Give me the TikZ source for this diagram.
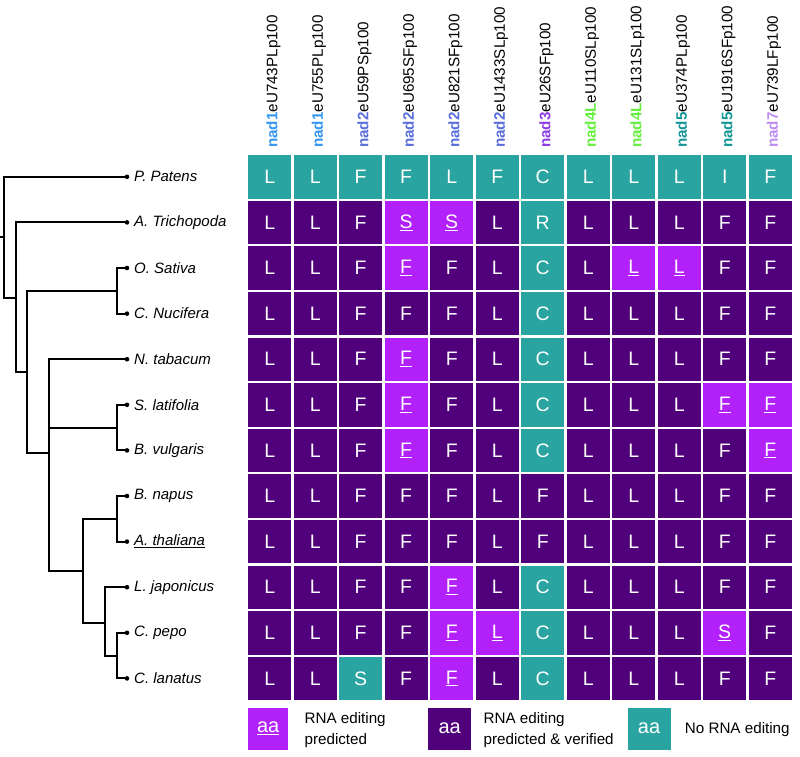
\documentclass[tikz,border=0pt]{standalone}
\usepackage{fontspec}
\setmainfont{Liberation Sans}
\usepackage{xcolor}
\usetikzlibrary{positioning}

\definecolor{verif}{RGB}{80,0,122}
\definecolor{pred}{RGB}{178,32,250}
\definecolor{noedit}{RGB}{42,164,160}
\definecolor{gnad1}{RGB}{52,150,240}
\definecolor{gnad2}{RGB}{90,110,220}
\definecolor{gnad3}{RGB}{140,60,230}
\definecolor{gnad4L}{RGB}{100,240,60}
\definecolor{gnad5}{RGB}{20,150,150}
\definecolor{gnad7}{RGB}{190,140,240}

\newcommand{\fmtv}[1]{#1}
\newcommand{\fmtp}[1]{\underline{#1}}
\newcommand{\fmtn}[1]{#1}

\begin{document}
\begin{tikzpicture}[
  x=1pt, y=-1pt,
  cell/.style={rectangle, minimum size=43.4pt, inner sep=0pt, text=white,
               font=\fontsize{19.5}{20}\selectfont},
  cellv/.style={cell, fill=verif},
  cellp/.style={cell, fill=pred},
  celln/.style={cell, fill=noedit},
  hdr/.style={rotate=90, anchor=west, inner sep=0pt,
              font=\fontsize{15.2}{16}\selectfont},
  species/.style={inner sep=0pt, font=\fontsize{15}{16}\selectfont\itshape},
  branch/.style={line width=2pt, draw=black},
  legbox/.style={rectangle, minimum height=42pt, inner sep=0pt, text=white,
                 font=\fontsize{20}{20}\selectfont},
  legtxt/.style={inner sep=0pt, align=left, yshift=-1.5pt,
                 font=\fontsize{15.2}{21.5}\selectfont}
]
\useasboundingbox (0,0) rectangle (800,756);
%% ── Column headers (editing sites) ──────────────────────────────────────
\foreach \gene/\site/\gcol [count=\c from 0] in {
    nad1/eU743PLp100/gnad1, nad1/eU755PLp100/gnad1, nad2/eU59PSp100/gnad2,
    nad2/eU695SFp100/gnad2, nad2/eU821SFp100/gnad2, nad2/eU1433SLp100/gnad2,
    nad3/eU26SFp100/gnad3, nad4L/eU110SLp100/gnad4L, nad4L/eU131SLp100/gnad4L,
    nad5/eU374PLp100/gnad5, nad5/eU1916SFp100/gnad5, nad7/eU739LFp100/gnad7}
  \node[hdr] (h\c) at ({273.5+45.5*\c},148) {\textcolor{\gcol}{\bfseries\gene}\site};
%% ── Amino-acid grid (v = verified, p = predicted, n = no editing) ───────
\foreach \row [count=\r from 0] in {
    {L/n,L/n,F/n,F/n,L/n,F/n,C/n,L/n,L/n,L/n,I/n,F/n},
    {L/v,L/v,F/v,S/p,S/p,L/v,R/n,L/v,L/v,L/v,F/v,F/v},
    {L/v,L/v,F/v,F/p,F/v,L/v,C/n,L/v,L/p,L/p,F/v,F/v},
    {L/v,L/v,F/v,F/v,F/v,L/v,C/n,L/v,L/v,L/v,F/v,F/v},
    {L/v,L/v,F/v,F/p,F/v,L/v,C/n,L/v,L/v,L/v,F/v,F/v},
    {L/v,L/v,F/v,F/p,F/v,L/v,C/n,L/v,L/v,L/v,F/p,F/p},
    {L/v,L/v,F/v,F/p,F/v,L/v,C/n,L/v,L/v,L/v,F/v,F/p},
    {L/v,L/v,F/v,F/v,F/v,L/v,F/v,L/v,L/v,L/v,F/v,F/v},
    {L/v,L/v,F/v,F/v,F/v,L/v,F/v,L/v,L/v,L/v,F/v,F/v},
    {L/v,L/v,F/v,F/v,F/p,L/v,C/n,L/v,L/v,L/v,F/v,F/v},
    {L/v,L/v,F/v,F/v,F/p,L/p,C/n,L/v,L/v,L/v,S/p,F/v},
    {L/v,L/v,S/n,F/v,F/p,L/v,C/n,L/v,L/v,L/v,F/v,F/v}}
  \foreach \aa/\kind [count=\c from 0] in \row
    \node[cell\kind] (c\r-\c) at ({269.7+45.5*\c},{176.8+45.6*\r})
      {\csname fmt\kind\endcsname{\aa}};
%% ── Species (tree leaves) ───────────────────────────────────────────────
\foreach \name [count=\r from 0] in {P. Patens, A. Trichopoda, O. Sativa,
    C. Nucifera, N. tabacum, S. latifolia, B. vulgaris, B. napus,
    {\underline{A. thaliana}}, L. japonicus, C. pepo, C. lanatus} {
  \coordinate (leaf\r) at (127,{176.8+45.6*\r});
  \fill (leaf\r) circle (2.3);
  \node[species, right=7pt of leaf\r] (sp\r) {\name};
}
%% ── Internal nodes of the tree ──────────────────────────────────────────
\coordinate (stub) at (0,237);
\coordinate (nR)   at (4,237);
\coordinate (nA)   at (15.7,297.5);
\coordinate (nB)   at (26.7,372);
\coordinate (nOC)  at (116.7,291);
\coordinate (nC)   at (49.3,453);
\coordinate (nSB)  at (116.7,428);
\coordinate (nD)   at (82.7,570.5);
\coordinate (nBA)  at (116.7,519);
\coordinate (nE)   at (105,622.5);
\coordinate (nCC)  at (116.7,656);
%% ── Branches ────────────────────────────────────────────────────────────
\draw[branch] (stub) -- (nR);
\foreach \p/\ch in {nR/leaf0, nR/nA, nA/leaf1, nA/nB, nB/nOC, nB/nC,
    nOC/leaf2, nOC/leaf3, nC/leaf4, nC/nSB, nC/nD, nSB/leaf5, nSB/leaf6,
    nD/nBA, nD/nE, nBA/leaf7, nBA/leaf8, nE/leaf9, nE/nCC,
    nCC/leaf10, nCC/leaf11}
  \draw[branch] (\p) |- (\ch);
%% ── Legend ──────────────────────────────────────────────────────────────
\node[legbox, minimum width=40pt, fill=pred] (lgp) at (268.2,728.5) {\underline{aa}};
\node[legtxt, right=16pt of lgp] (lgpt) {RNA editing\\predicted};
\node[legbox, minimum width=43pt, fill=verif] (lgv) at (449.7,728.5) {aa};
\node[legtxt, right=12pt of lgv] (lgvt) {RNA editing\\predicted \& verified};
\node[legbox, minimum width=43pt, fill=noedit] (lgn) at (649,728.5) {aa};
\node[legtxt, right=14pt of lgn] (lgnt) {No RNA editing};
\end{tikzpicture}
\end{document}
